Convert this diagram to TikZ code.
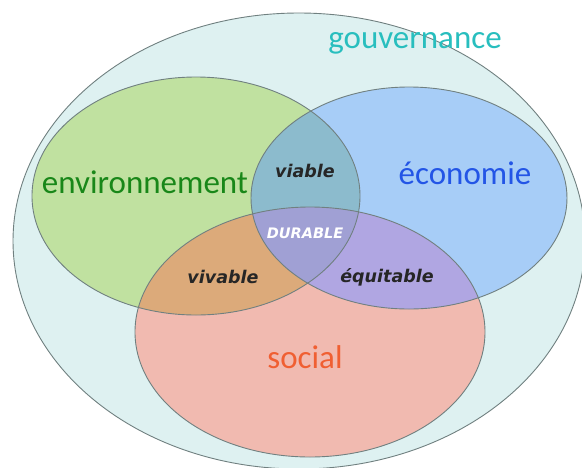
\documentclass[tikz,border=0pt]{standalone}
\usepackage{fontspec}
\setmainfont{Carlito}
\newfontfamily\lblfont{DejaVu Sans}
\definecolor{govfill}{RGB}{222,241,241}
\definecolor{envfill}{RGB}{192,225,160}
\definecolor{ecofill}{RGB}{167,205,247}
\definecolor{socfill}{RGB}{241,186,176}
\definecolor{eefill}{RGB}{140,187,205}
\definecolor{esfill}{RGB}{220,170,122}
\definecolor{csfill}{RGB}{176,166,226}
\definecolor{allfill}{RGB}{160,160,212}
\definecolor{edge}{RGB}{112,128,128}
\definecolor{govtext}{RGB}{40,190,190}
\definecolor{envtext}{RGB}{25,135,25}
\definecolor{ecotext}{RGB}{35,85,230}
\definecolor{soctext}{RGB}{240,95,50}
\tikzset{
  rim/.style={draw=edge, line width=0.9pt},
  bigword/.style={font=\fontsize{33}{36}\selectfont, inner sep=0pt},
  smallword/.style={font=\lblfont\bfseries\itshape\fontsize{17.5}{20}\selectfont, inner sep=0pt, text=black!85},
}
\begin{document}
\begin{tikzpicture}[x=1pt,y=-1pt]
\useasboundingbox (0,0) rectangle (582,467);
\def\govpath{(299,241) ellipse [x radius=286pt, y radius=228pt]}
\def\envpath{(196,196) ellipse [x radius=164pt, y radius=119pt]}
\def\ecopath{(409,198) ellipse [x radius=158pt, y radius=111pt]}
\def\socpath{(310,332) ellipse [x radius=175pt, y radius=125pt]}
\fill[govfill] \govpath;
\fill[envfill] \envpath;
\fill[ecofill] \ecopath;
\fill[socfill] \socpath;
\begin{scope}
  \clip \envpath;
  \fill[eefill] \ecopath;
  \fill[esfill] \socpath;
\end{scope}
\begin{scope}
  \clip \ecopath;
  \fill[csfill] \socpath;
\end{scope}
\begin{scope}
  \clip \envpath;
  \clip \ecopath;
  \fill[allfill] \socpath;
\end{scope}
\draw[rim] \govpath;
\draw[rim] \envpath;
\draw[rim] \ecopath;
\draw[rim] \socpath;
\node[bigword, text=govtext] (gov) at (415,43) {gouvernance};
\node[bigword, text=envtext] (env) at (145,182) {environnement};
\node[bigword, text=ecotext] (eco) at (465,173) {économie};
\node[bigword, text=soctext] (soc) at (305,357) {social};
\node[smallword] (via) at (305,171) {viable};
\node[smallword, text=white, font=\lblfont\bfseries\itshape\fontsize{14.5}{17}\selectfont] (dur) at (305,233) {DURABLE};
\node[smallword] (viv) at (223,277) {vivable};
\node[smallword] (equ) at (387,277) {équitable};
\end{tikzpicture}
\end{document}
